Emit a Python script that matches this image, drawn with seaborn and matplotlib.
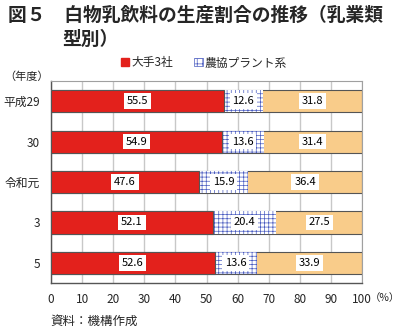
import matplotlib
matplotlib.use("Agg")
import matplotlib.pyplot as plt
import seaborn as sns
import pandas as pd
from matplotlib.patches import Patch

years = ["平成29", "30", "令和元", "3", "5"]
large3 = [55.5, 54.9, 47.6, 52.1, 52.6]
nokyo = [12.6, 13.6, 15.9, 20.4, 13.6]
other = [31.8, 31.4, 36.4, 27.5, 33.9]
series_names = ["大手3社", "農協プラント系"]
xticks = [0, 10, 20, 30, 40, 50, 60, 70, 80, 90, 100]

sns.set_theme(style="white")
plt.rcParams["font.family"] = ["Noto Sans CJK JP", "DejaVu Sans"]
plt.rcParams["hatch.linewidth"] = 0.5

df = pd.DataFrame({"year": years, "large3": large3, "nokyo": nokyo, "other": other})
df["c2"] = df["large3"] + df["nokyo"]
df["c3"] = df["c2"] + df["other"]

fig = plt.figure(figsize=(4.0, 3.28), dpi=100)
ax = fig.add_axes([0.1275, 0.137, 0.7775, 0.616])

RED = "#E3211C"
BLUE = "#4A5CC0"
ORANGE = "#F9CC8A"

sns.barplot(data=df, x="c3", y="year", orient="h", color=ORANGE, width=0.55,
            edgecolor="#555555", linewidth=0.8, ax=ax, saturation=1, zorder=2)
sns.barplot(data=df, x="c2", y="year", orient="h", color="white", width=0.55,
            edgecolor=BLUE, hatch="++++", linewidth=0.0, ax=ax, saturation=1, zorder=3)
sns.barplot(data=df, x="large3", y="year", orient="h", color=RED, width=0.55,
            edgecolor="#555555", linewidth=0.8, ax=ax, saturation=1, zorder=4)

for i in range(len(years)):
    starts = [0, large3[i], large3[i] + nokyo[i]]
    vals = [large3[i], nokyo[i], other[i]]
    for s, v in zip(starts, vals):
        ax.text(s + v / 2, i, f"{v:.1f}", ha="center", va="center", fontsize=8,
                color="black", zorder=6,
                bbox=dict(boxstyle="square,pad=0.25", fc="white", ec="none"))

ax.set_xlim(0, 100)
ax.set_ylim(4.5, -0.5)
ax.set_xticks(xticks)
ax.set_xticklabels([str(t) for t in xticks], fontsize=8.5)
ax.tick_params(axis="y", labelsize=8.5, length=0, pad=8)
ax.tick_params(axis="x", length=0, pad=7)
ax.set_xlabel("")
ax.set_ylabel("")
ax.grid(axis="x", color="#C8C8C8", linewidth=1.0, zorder=0)
ax.set_axisbelow(True)
for side in ["top", "right"]:
    ax.spines[side].set_color("#A0A0A0")
    ax.spines[side].set_linewidth(0.8)
for side in ["left", "bottom"]:
    ax.spines[side].set_color("#555555")
    ax.spines[side].set_linewidth(1.0)

fig.text(0.02, 0.955, "図５　白物乳飲料の生産割合の推移（乳業類", fontsize=13.5,
         fontweight="bold", va="center", ha="left")
fig.text(0.155, 0.88, "型別）", fontsize=13.5, fontweight="bold", va="center", ha="left")
fig.text(0.01, 0.765, "（年度）", fontsize=8, va="center", ha="left")
fig.text(0.925, 0.092, "（%）", fontsize=7.5, va="center", ha="left")
fig.text(0.125, 0.02, "資料：機構作成", fontsize=9, va="center", ha="left")

handles = [Patch(facecolor=RED, edgecolor=RED),
           Patch(facecolor="white", edgecolor=BLUE, hatch="+++", linewidth=0.5)]
fig.legend(handles, series_names, loc="center", bbox_to_anchor=(0.51, 0.808), ncol=2,
           frameon=False, fontsize=8.5, handlelength=0.7, handleheight=0.7,
           handletextpad=0.2, columnspacing=1.8, borderpad=0)

fig.savefig("out.png", dpi=100)
